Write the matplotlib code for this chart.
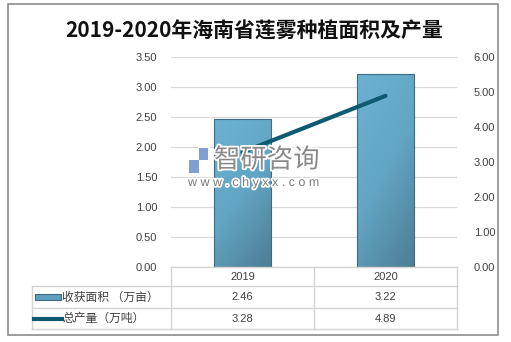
import numpy as np
import matplotlib.pyplot as plt
import matplotlib.patheffects as pe
from matplotlib.patches import Rectangle
from matplotlib.lines import Line2D
from matplotlib.colors import LinearSegmentedColormap

plt.rcParams['font.family'] = ['Liberation Sans', 'Noto Sans CJK SC']

years = ['2019', '2020']
area = [2.46, 3.22]        # 收获面积 （万亩）
output = [3.28, 4.89]      # 总产量（万吨）
area_label = '收获面积 （万亩）'
output_label = '总产量（万吨）'
title = '2019-2020年海南省莲雾种植面积及产量'
left_ticks = [0, 0.5, 1, 1.5, 2, 2.5, 3, 3.5]
right_ticks = [0, 1, 2, 3, 4, 5, 6]

W, H = 511, 342
fig = plt.figure(figsize=(W / 100, H / 100), dpi=100)


def fx(px):
    return px / W


def fy(py):
    return 1 - py / H


# outer frame
fig.add_artist(Rectangle((fx(8), fy(335)), fx(490), 331 / H, transform=fig.transFigure,
                         fill=False, edgecolor='#8c8c8c', lw=1.2))

fig.text(fx(254), fy(31), title, ha='center', va='center', fontsize=15,
         fontweight='bold', family=['Noto Sans CJK SC'], color='#111111')

x0, x1, ytop, ybot = 171, 457, 57, 267
ax = fig.add_axes([fx(x0), fy(ybot), fx(x1 - x0), (ybot - ytop) / H])
ax2 = ax.twinx()

xs = np.arange(len(years))
ax.set_yticks(left_ticks)
ax.set_yticklabels([f'{v:.2f}' for v in left_ticks])
ax2.set_yticks(right_ticks)
ax2.set_yticklabels([f'{v:.2f}' for v in right_ticks])
ax.yaxis.grid(True, color='#d9d9d9', lw=0.9)
ax.set_axisbelow(True)
ax.set_xticks([])
for a in (ax, ax2):
    for s in a.spines.values():
        s.set_visible(False)
    a.tick_params(axis='y', length=0, labelsize=8, labelcolor='#404040')
ax.tick_params(axis='y', pad=10)
ax2.tick_params(axis='y', pad=12)

# gradient bars (light top-left, darker bottom-right)
cmap = LinearSegmentedColormap.from_list('bar', ['#6cb2d2', '#62a5c4', '#4d7d93'])
gy, gx = np.mgrid[0:1:100j, 0:1:100j]
grad = 0.65 * gy + 0.35 * gx
bw = 0.4
bars = ax.bar(xs, area, width=bw, color='none', edgecolor='#3f6a80', lw=0.8, zorder=3)
for b in bars:
    im = ax.imshow(grad, cmap=cmap, aspect='auto', zorder=2.5, origin='upper',
                   extent=[b.get_x(), b.get_x() + b.get_width(), 0, b.get_height()])
    im.set_clip_path(b)
ax.set_xlim(-0.5, len(years) - 0.5)
ax.set_ylim(0, 3.5)
ax2.set_ylim(0, 6)

ax2.plot(xs, output, color='#0e5a70', lw=3, solid_capstyle='round', zorder=4)

# watermark
halo = [pe.withStroke(linewidth=2.5, foreground='white')]
fig.text(fx(189), fy(160), '▞', fontsize=18, color='#7f9fd0', va='center',
         family=['DejaVu Sans'], zorder=10, path_effects=halo)
fig.text(fx(214), fy(160), '智研咨询', fontsize=19, color='#8a8a8a',
         va='center', family=['Noto Sans CJK SC'], zorder=10, path_effects=halo)
fig.text(fx(188), fy(183), 'w w w . c h y x x . c o m', fontsize=9, color='#7a7a7a',
         va='center', zorder=10, path_effects=halo)

# data table
tc = '#d4d4d4'
rows = [267, 286, 308, 329]
cols = [32, 171, 314, 457]


def hline(y, xa, xb):
    fig.add_artist(Line2D([fx(xa), fx(xb)], [fy(y), fy(y)], color=tc, lw=1))


def vline(x, ya, yb):
    fig.add_artist(Line2D([fx(x), fx(x)], [fy(ya), fy(yb)], color=tc, lw=1))


hline(rows[0], cols[1], cols[3])
for r in rows[1:]:
    hline(r, cols[0], cols[3])
vline(cols[0], rows[1], rows[3])
for c in cols[1:]:
    vline(c, rows[0], rows[3])

tkw = dict(ha='center', va='center', fontsize=8, color='#404040')
for i, yr in enumerate(years):
    cx = (cols[i + 1] + cols[i + 2]) / 2
    fig.text(fx(cx), fy((rows[0] + rows[1]) / 2), yr, **tkw)
    fig.text(fx(cx), fy((rows[1] + rows[2]) / 2), f'{area[i]:.2f}', **tkw)
    fig.text(fx(cx), fy((rows[2] + rows[3]) / 2), f'{output[i]:.2f}', **tkw)

ry1 = (rows[1] + rows[2]) / 2
ry2 = (rows[2] + rows[3]) / 2
fig.add_artist(Rectangle((fx(35), fy(ry1 + 3)), fx(26), 6 / H, transform=fig.transFigure,
                         facecolor='#5e9fbd', edgecolor='#3f6a80', lw=0.8))
fig.add_artist(Line2D([fx(34), fx(62)], [fy(ry2), fy(ry2)], color='#0e5a70', lw=3))
fig.text(fx(62), fy(ry1), area_label, ha='left', va='center', fontsize=8.5,
         color='#404040', family=['Noto Sans CJK SC'])
fig.text(fx(62), fy(ry2), output_label, ha='left', va='center', fontsize=8.5,
         color='#404040', family=['Noto Sans CJK SC'])

fig.savefig('out.png', dpi=100)
